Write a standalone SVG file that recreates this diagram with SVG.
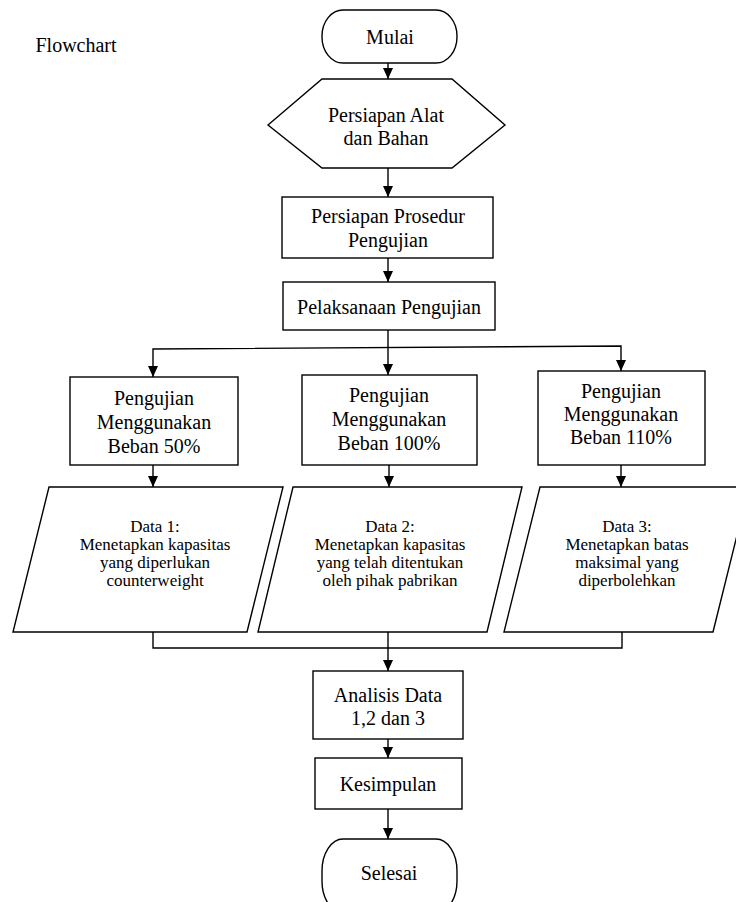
<svg xmlns="http://www.w3.org/2000/svg" width="736" height="902" viewBox="0 0 736 902">
<style>
.s{fill:#fff;stroke:#000;stroke-width:1.4}
.c{fill:none;stroke:#000;stroke-width:1.4}
text{font-family:"Liberation Serif","Times New Roman",serif;fill:#000;text-anchor:middle}
.t{font-size:20px}
.d{font-size:17px}
</style>
<defs>
<marker id="ah" markerUnits="userSpaceOnUse" markerWidth="11" markerHeight="10" refX="11" refY="5" orient="auto-start-reverse" viewBox="0 0 11 10">
<path d="M0,0 L11,5 L0,10 Z" fill="#000"/>
</marker>
</defs>
<rect width="736" height="902" fill="#fff"/>
<text x="76" y="52" class="t">Flowchart</text>

<g id="mulai">
<rect class="s" x="322" y="10" width="135" height="53" rx="21" ry="26"/>
<text x="390" y="44" class="t">Mulai</text>
</g>
<g id="persiapan-alat">
<polygon class="s" points="268,125 322,79 452,79 505,125 452,168 322,168"/>
<text x="386" y="122" class="t">Persiapan Alat</text>
<text x="386" y="145" class="t">dan Bahan</text>
</g>
<g id="persiapan-prosedur">
<rect class="s" x="282" y="197" width="211" height="61"/>
<text x="388" y="223" class="t">Persiapan Prosedur</text>
<text x="388" y="247" class="t">Pengujian</text>
</g>
<g id="pelaksanaan">
<rect class="s" x="283" y="282" width="212" height="48"/>
<text x="389" y="314" class="t">Pelaksanaan Pengujian</text>
</g>
<g id="uji50">
<rect class="s" x="70" y="377" width="168" height="88"/>
<text x="154" y="405" class="t">Pengujian</text>
<text x="154" y="429" class="t">Menggunakan</text>
<text x="154" y="453" class="t">Beban 50%</text>
</g>
<g id="uji100">
<rect class="s" x="302" y="375" width="175" height="90"/>
<text x="389" y="402" class="t">Pengujian</text>
<text x="389" y="426" class="t">Menggunakan</text>
<text x="389" y="450" class="t">Beban 100%</text>
</g>
<g id="uji110">
<rect class="s" x="538" y="371" width="167" height="94"/>
<text x="621" y="398" class="t">Pengujian</text>
<text x="621" y="421" class="t">Menggunakan</text>
<text x="621" y="444" class="t">Beban 110%</text>
</g>
<g id="data1">
<polygon class="s" points="49,487 283,487 247,632 13,632"/>
<text x="155" y="532" class="d">Data 1:</text>
<text x="155" y="550" class="d">Menetapkan kapasitas</text>
<text x="155" y="568" class="d">yang diperlukan</text>
<text x="155" y="586" class="d">counterweight</text>
</g>
<g id="data2">
<polygon class="s" points="293,487 522,487 487,632 258,632"/>
<text x="390" y="532" class="d">Data 2:</text>
<text x="390" y="550" class="d">Menetapkan kapasitas</text>
<text x="390" y="568" class="d">yang telah ditentukan</text>
<text x="390" y="586" class="d">oleh pihak pabrikan</text>
</g>
<g id="data3">
<polygon class="s" points="540,487 749,487 713,632 504,632"/>
<text x="627" y="532" class="d">Data 3:</text>
<text x="627" y="550" class="d">Menetapkan batas</text>
<text x="627" y="568" class="d">maksimal yang</text>
<text x="627" y="586" class="d">diperbolehkan</text>
</g>
<g id="analisis">
<rect class="s" x="313" y="671" width="150" height="68"/>
<text x="388" y="702" class="t">Analisis Data</text>
<text x="388" y="725" class="t">1,2 dan 3</text>
</g>
<g id="kesimpulan">
<rect class="s" x="315" y="758" width="147" height="51"/>
<text x="388" y="791" class="t">Kesimpulan</text>
</g>
<g id="selesai">
<rect class="s" x="322" y="839" width="135" height="74" rx="21" ry="32"/>
<text x="389" y="880" class="t">Selesai</text>
</g>

<g id="edges">
<path class="c" d="M388,63 V79" marker-end="url(#ah)"/>
<path class="c" d="M388,168 V197" marker-end="url(#ah)"/>
<path class="c" d="M388,258 V282" marker-end="url(#ah)"/>
<path class="c" d="M388,330 V348"/>
<path class="c" d="M153,377 V349 L621,346 V371" marker-start="url(#ah)" marker-end="url(#ah)"/>
<path class="c" d="M388,348 V375" marker-end="url(#ah)"/>
<path class="c" d="M153,465 V487" marker-end="url(#ah)"/>
<path class="c" d="M389,465 V487" marker-end="url(#ah)"/>
<path class="c" d="M621,465 V487" marker-end="url(#ah)"/>
<path class="c" d="M153,632 V648 H622 V632"/>
<path class="c" d="M388,632 V671" marker-end="url(#ah)"/>
<path class="c" d="M388,739 V758" marker-end="url(#ah)"/>
<path class="c" d="M388,809 V839" marker-end="url(#ah)"/>
</g>
</svg>
